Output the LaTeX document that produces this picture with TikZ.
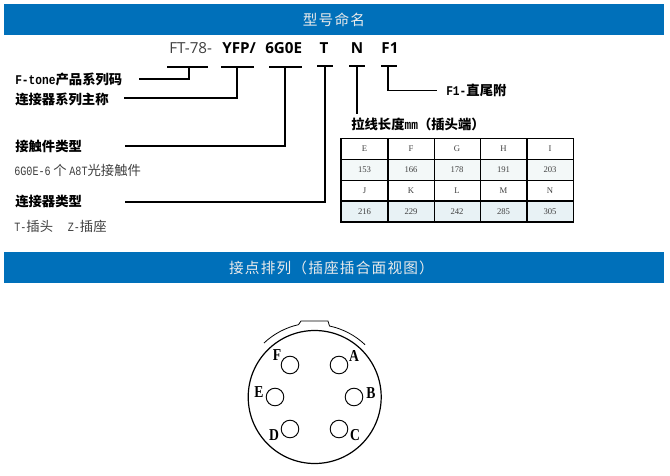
\documentclass[tikz,border=0pt]{standalone}
\usepackage{fontspec}
\setmainfont{Liberation Serif}
\newfontfamily\zhf{Noto Sans CJK SC}
\newfontfamily\zhsp[LetterSpace=8]{Noto Sans CJK SC}
\newfontfamily\monof{Liberation Mono}
\newfontfamily\sansf{Open Sans}
\newcommand{\zhb}[1]{{\zhf\bfseries #1}}
\newcommand{\mb}[1]{\scalebox{.84}[1]{\monof\bfseries\fontsize{10}{12}\selectfont #1}}
\newcommand{\mr}[1]{\scalebox{.8}[1]{\monof\fontsize{9.5}{12}\selectfont #1}}
\newcommand{\pinl}[1]{\scalebox{.82}[1]{#1}}
\definecolor{bandblue}{HTML}{0070BA}
\definecolor{rowa}{HTML}{F3F8F8}
\definecolor{rowb}{HTML}{E8F2F5}
\definecolor{graytx}{HTML}{404040}
\tikzset{
  band/.style={fill=bandblue,draw=none},
  bandtext/.style={text=white!92!black,font=\zhsp\fontsize{11}{13}\selectfont,inner sep=0pt},
  code/.style={font=\sansf\fontsize{11.4}{13}\selectfont,inner sep=0pt,text=black},
  lab/.style={font=\fontsize{10}{12}\selectfont,anchor=west,inner sep=0pt,text=black},
  sub/.style={font=\fontsize{10}{12}\selectfont,anchor=west,inner sep=0pt,text=graytx},
  lead/.style={draw=black,line width=1.2pt},
  leadthin/.style={draw=black,line width=.8pt},
  cell/.style={draw=none,minimum width=34.8pt,minimum height=15.6pt,inner sep=0pt,font=\fontsize{6.5}{8}\selectfont,text=graytx},
  grid/.style={draw=black,line width=1.2pt},
  hole/.style={circle,draw=black,line width=.7pt,minimum size=13.2pt,inner sep=0pt},
  pin/.style={font=\bfseries\fontsize{12.5}{13}\selectfont,inner sep=0pt,text=black},
}
\begin{document}
\begin{tikzpicture}[x=.75pt,y=-.75pt]
\useasboundingbox (0,0) rectangle (670,475);
\fill[white] (0,0) rectangle (670,475);
% bands
\fill[band] (4,4) rectangle (664,35);
\node[bandtext] (title1) at (334,20) {型号命名};
\fill[band] (4,252) rectangle (664,283);
\node[bandtext] (title2) at (331.5,268) {接点排列（插座插合面视图）};
% code line
\node[code,text=graytx,anchor=west] (c0) at (169,48) {FT-78-};
\node[code,anchor=west] (c1) at (222,48) {\bfseries YFP/};
\node[code,anchor=west] (c2) at (265,48) {\bfseries 6G0E};
\node[code] (c3) at (324,48) {\bfseries T};
\node[code] (c4) at (357,48) {\bfseries N};
\node[code] (c5) at (390,48) {\bfseries F1};
% labels
\node[lab] (l1) at (15,79) {\mb{F-tone}\zhb{产品系列码}};
\node[lab] (l2) at (15,99) {\zhb{连接器系列主称}};
\node[lab] (l3) at (15,146) {\zhb{接触件类型}};
\node[sub] (s3) at (14,170) {\mr{6G0E-6}\hspace{2pt}{\zhf 个}\hspace{2pt}\mr{A8T}{\zhf 光接触件}};
\node[lab] (l4) at (15,202) {\zhb{连接器类型}};
\node[sub] (s4) at (14,226) {\mr{T-}{\zhf 插头}\hspace{11pt}\mr{Z-}{\zhf 插座}};
\node[lab] (l5) at (446,90) {\mb{F1-}\zhb{直尾附}};
\node[lab] (l6) at (351,124) {\zhb{拉线长度}\mb{mm}\zhb{（插头端）}};
% lead coordinates
\coordinate (u1a) at (167,67); \coordinate (u1b) at (208,67); \coordinate (u1c) at (189,67); \coordinate (e1) at (139,79);
\coordinate (u2a) at (221,67); \coordinate (u2b) at (254,67); \coordinate (u2c) at (237,67); \coordinate (e2) at (124,98);
\coordinate (u3a) at (269,67); \coordinate (u3b) at (302,67); \coordinate (u3c) at (285,67); \coordinate (e3) at (125,146);
\coordinate (u4a) at (317,66); \coordinate (u4b) at (333,66); \coordinate (u4c) at (325,66); \coordinate (e4) at (125,202);
\coordinate (u5a) at (349,66); \coordinate (u5b) at (365,66); \coordinate (u5c) at (357,66); \coordinate (e5) at (357,114);
\coordinate (u6a) at (381,66); \coordinate (u6b) at (397,66); \coordinate (u6c) at (388,66); \coordinate (e6) at (437,90.5);
\draw[lead] (u1a) -- (u1b);
\draw[leadthin] (u1c) |- (e1);
\draw[lead] (u2a) -- (u2b);
\draw[leadthin] (u2c) |- (e2);
\draw[lead] (u3a) -- (u3b);
\draw[lead] (u3c) |- (e3);
\draw[leadthin] (u4a) -- (u4b);
\draw[lead] (u4c) |- (e4);
\draw[leadthin] (u5a) -- (u5b);
\draw[lead] (u5c) -- (e5);
\draw[leadthin] (u6a) -- (u6b);
\draw[leadthin] (u6c) |- (e6);
% table
\foreach \n/\x/\a/\b/\c/\d in {1/364.5/E/153/J/216,2/411/F/166/K/229,3/457/G/178/L/242,4/503.5/H/191/M/285,5/550/I/203/N/305}{
  \node[cell,fill=white] (ta\n) at (\x,149) {\a};
  \node[cell,fill=rowa] (tb\n) at (\x,169.7) {\b};
  \node[cell,fill=white] (tc\n) at (\x,190.5) {\c};
  \node[cell,fill=rowb] (td\n) at (\x,211.3) {\d};
}
\draw[grid] (ta1.north west) rectangle (td5.south east);
\foreach \n in {1,...,4}{ \draw[grid] (ta\n.north east) -- (td\n.south east); }
\draw[grid] (ta1.south west) -- (ta5.south east);
\draw[grid] (tb1.south west) -- (tb5.south east);
\draw[grid] (tc1.south west) -- (tc5.south east);
% connector face
\coordinate (cc) at (314.7,397);
\draw[line width=.9pt] (cc) circle (66.5);
\draw[line width=.6pt] (264,343) arc[start angle=-133.3,end angle=-102.7,radius=74]
  -- (301,321) -- (328,321) -- (329.5,326)
  arc[start angle=-78,end angle=-46.5,radius=74];
\node[hole] (hA) at (339,365) {};
\node[hole] (hF) at (290,365) {};
\node[hole] (hE) at (275,397) {};
\node[hole] (hB) at (354,397) {};
\node[hole] (hD) at (290,429) {};
\node[hole] (hC) at (339,429) {};
\node[pin] (pF) at (277,355) {\pinl{F}};
\node[pin] (pA) at (354,356) {\pinl{A}};
\node[pin] (pE) at (259,392) {\pinl{E}};
\node[pin] (pB) at (371,393) {\pinl{B}};
\node[pin] (pD) at (274,435) {\pinl{D}};
\node[pin] (pC) at (355,435) {\pinl{C}};
\end{tikzpicture}
\end{document}
